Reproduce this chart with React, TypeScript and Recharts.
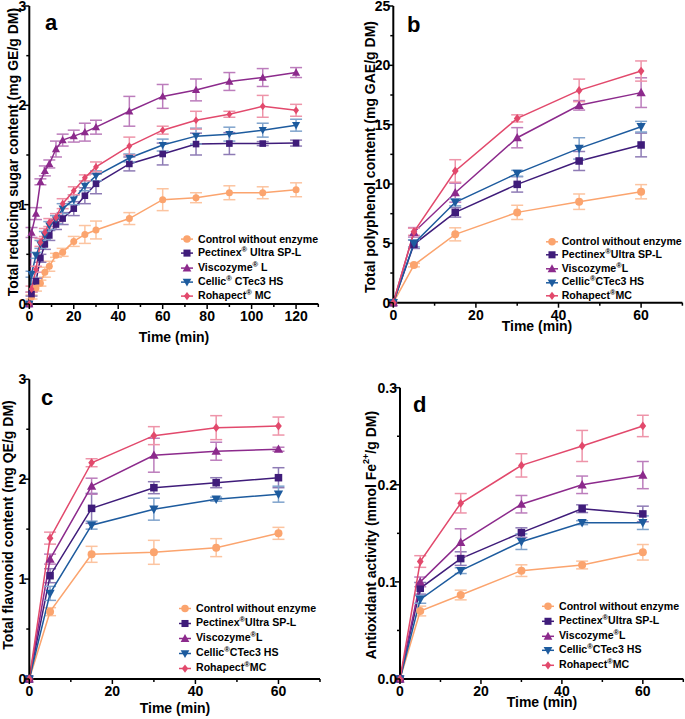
import React from 'react';
import { LineChart, Line, XAxis, YAxis, ErrorBar, Legend, Label } from 'recharts';

const FONT = '"Liberation Sans", Arial, Helvetica, sans-serif';

// ---------- series meta ----------
const seriesKeys = ['ctrl', 'pect', 'visc', 'cell', 'roha'];
const seriesColors = ['#FBA46E', '#3F1C7A', '#8C2A8C', '#1D5B9E', '#E2496C'];
const errorColors = ['#FCC4A0', '#8E7BB5', '#BC7DBC', '#7FA3CC', '#EE94A9'];
const seriesShapes = ['circle', 'square', 'up', 'down', 'diamond'];
const legendPrefix = ['Control without enzyme', 'Pectinex', 'Viscozyme', 'Cellic', 'Rohapect'];
const legendSuffixA = ['', ' Ultra SP-L', ' L', ' CTec3 HS', ' MC'];
const legendSuffix = ['', 'Ultra SP-L', 'L', 'CTec3 HS', 'MC'];

// ---------- panel a: reducing sugar ----------
const aTime = [0, 1, 3, 5, 7, 9, 12, 15, 20, 25, 30, 45, 60, 75, 90, 105, 120];
const aControl = [0, 0.07, 0.16, 0.21, 0.32, 0.38, 0.49, 0.52, 0.63, 0.7, 0.745, 0.86, 1.05, 1.07, 1.12, 1.12, 1.15];
const aControlErr = [0, 0.02, 0.03, 0.03, 0.05, 0.05, 0.02, 0.04, 0.05, 0.09, 0.09, 0.06, 0.11, 0.05, 0.07, 0.06, 0.07];
const aPectinex = [0, 0.1, 0.23, 0.46, 0.6, 0.69, 0.8, 0.86, 0.96, 1.09, 1.21, 1.41, 1.51, 1.61, 1.615, 1.615, 1.62];
const aPectinexErr = [0, 0.02, 0.03, 0.04, 0.05, 0.05, 0.05, 0.06, 0.07, 0.08, 0.1, 0.07, 0.11, 0.11, 0.11, 0.02, 0.03];
const aViscozyme = [0, 0.72, 0.91, 1.23, 1.34, 1.41, 1.56, 1.65, 1.69, 1.73, 1.78, 1.94, 2.09, 2.155, 2.24, 2.28, 2.33];
const aViscozymeErr = [0, 0.05, 0.06, 0.03, 0.05, 0.04, 0.08, 0.06, 0.06, 0.09, 0.07, 0.15, 0.12, 0.11, 0.09, 0.09, 0.05];
const aCellic = [0, 0.3, 0.49, 0.6, 0.69, 0.79, 0.85, 0.96, 1.05, 1.19, 1.29, 1.47, 1.6, 1.69, 1.71, 1.75, 1.8];
const aCellicErr = [0, 0.03, 0.03, 0.04, 0.04, 0.04, 0.04, 0.05, 0.05, 0.05, 0.05, 0.04, 0.06, 0.08, 0.07, 0.07, 0.06];
const aRohapect = [0, 0.15, 0.35, 0.62, 0.72, 0.82, 0.87, 1.01, 1.14, 1.27, 1.38, 1.59, 1.75, 1.85, 1.91, 1.99, 1.95];
const aRohapectErr = [0, 0.03, 0.03, 0.04, 0.04, 0.04, 0.04, 0.05, 0.04, 0.03, 0.05, 0.09, 0.04, 0.09, 0.03, 0.11, 0.06];

// ---------- panels b, c, d share time points ----------
const bcdTime = [0, 5, 15, 30, 45, 60];

const bControl = [0, 3.17, 5.76, 7.61, 8.51, 9.35];
const bControlErr = [0, 0.15, 0.55, 0.6, 0.65, 0.6];
const bPectinex = [0, 4.92, 7.61, 9.97, 11.94, 13.29];
const bPectinexErr = [0, 0.35, 0.4, 0.65, 0.8, 1.0];
const bViscozyme = [0, 5.93, 9.27, 13.9, 16.63, 17.7];
const bViscozymeErr = [0, 0.4, 0.8, 0.85, 0.4, 1.25];
const bCellic = [0, 5.0, 8.46, 10.9, 13.0, 14.83];
const bCellicErr = [0, 0.3, 0.3, 0.25, 0.9, 0.45];
const bRohapect = [0, 5.98, 11.1, 15.53, 17.89, 19.52];
const bRohapectErr = [0, 0.3, 0.95, 0.3, 0.95, 0.85];

const cControl = [0, 0.674, 1.248, 1.268, 1.315, 1.458];
const cControlErr = [0, 0.04, 0.08, 0.12, 0.09, 0.06];
const cPectinex = [0, 1.034, 1.708, 1.915, 1.965, 2.015];
const cPectinexErr = [0, 0.07, 0.15, 0.06, 0.05, 0.1];
const cViscozyme = [0, 1.2, 1.93, 2.24, 2.28, 2.3];
const cViscozymeErr = [0, 0.05, 0.08, 0.17, 0.09, 0.02];
const cCellic = [0, 0.857, 1.54, 1.7, 1.8, 1.85];
const cCellicErr = [0, 0.07, 0.04, 0.11, 0.02, 0.08];
const cRohapect = [0, 1.41, 2.165, 2.436, 2.516, 2.532];
const cRohapectErr = [0, 0.06, 0.04, 0.09, 0.12, 0.09];

const dControl = [0, 0.07, 0.0865, 0.1116, 0.1174, 0.1305];
const dControlErr = [0, 0.005, 0.005, 0.006, 0.004, 0.008];
const dPectinex = [0, 0.0934, 0.124, 0.1507, 0.1754, 0.17];
const dPectinexErr = [0, 0.006, 0.007, 0.005, 0.004, 0.008];
const dViscozyme = [0, 0.1, 0.1407, 0.18, 0.2, 0.21];
const dViscozymeErr = [0, 0.005, 0.014, 0.009, 0.009, 0.014];
const dCellic = [0, 0.082, 0.1116, 0.1414, 0.161, 0.161];
const dCellicErr = [0, 0.004, 0.003, 0.008, 0.002, 0.007];
const dRohapect = [0, 0.121, 0.181, 0.22, 0.24, 0.2606];
const dRohapectErr = [0, 0.006, 0.01, 0.012, 0.016, 0.011];

// ---------- ticks ----------
const xTicksA = [0, 10, 20, 30, 40, 50, 60, 70, 80, 90, 100, 110, 120, 130];
const xMajorA = [0, 20, 40, 60, 80, 100, 120];
const xTicksBCD = [0, 10, 20, 30, 40, 50, 60, 70];
const xMajorBCD = [0, 20, 40, 60];
const yTicksAC = [0, 0.5, 1, 1.5, 2, 2.5, 3];
const yMajorAC = [0, 1, 2, 3];
const yLabelsAC = ['0', '1', '2', '3'];
const yTicksB = [0, 2.5, 5, 7.5, 10, 12.5, 15, 17.5, 20, 22.5, 25];
const yMajorB = [0, 5, 10, 15, 20, 25];
const yLabelsB = ['0', '5', '10', '15', '20', '25'];
const yTicksD = [0, 0.05, 0.1, 0.15, 0.2, 0.25, 0.3];
const yMajorD = [0, 0.1, 0.2, 0.3];
const yLabelsD = ['0.0', '0.1', '0.2', '0.3'];

function buildRows(t: number[], vals: number[][], errs: number[][]) {
  return t.map((tv, i) => {
    const r: any = { t: tv };
    seriesKeys.forEach((k, j) => {
      r[k] = vals[j][i];
      r[k + '_e'] = errs[j][i];
    });
    return r;
  });
}

const dataA = buildRows(aTime, [aControl, aPectinex, aViscozyme, aCellic, aRohapect], [aControlErr, aPectinexErr, aViscozymeErr, aCellicErr, aRohapectErr]);
const dataB = buildRows(bcdTime, [bControl, bPectinex, bViscozyme, bCellic, bRohapect], [bControlErr, bPectinexErr, bViscozymeErr, bCellicErr, bRohapectErr]);
const dataC = buildRows(bcdTime, [cControl, cPectinex, cViscozyme, cCellic, cRohapect], [cControlErr, cPectinexErr, cViscozymeErr, cCellicErr, cRohapectErr]);
const dataD = buildRows(bcdTime, [dControl, dPectinex, dViscozyme, dCellic, dRohapect], [dControlErr, dPectinexErr, dViscozymeErr, dCellicErr, dRohapectErr]);

// ---------- marker ----------
function Marker({ cx, cy, shape, color, s }: any) {
  if (cx == null || cy == null) return <g />;
  switch (shape) {
    case 'circle':
      return <circle cx={cx} cy={cy} r={s * 0.5} fill={color} />;
    case 'square':
      return <rect x={cx - s * 0.47} y={cy - s * 0.47} width={s * 0.94} height={s * 0.94} fill={color} />;
    case 'up':
      return <polygon points={`${cx},${cy - s * 0.6} ${cx - s * 0.58},${cy + s * 0.45} ${cx + s * 0.58},${cy + s * 0.45}`} fill={color} />;
    case 'down':
      return <polygon points={`${cx},${cy + s * 0.6} ${cx - s * 0.58},${cy - s * 0.45} ${cx + s * 0.58},${cy - s * 0.45}`} fill={color} />;
    default:
      return <polygon points={`${cx},${cy - s * 0.55} ${cx + s * 0.42},${cy} ${cx},${cy + s * 0.55} ${cx - s * 0.42},${cy}`} fill={color} />;
  }
}

const near = (a: number, list: number[]) => list.findIndex((v) => Math.abs(v - a) < 1e-9);

function XTick(props: any) {
  const { x, y, payload, major } = props;
  const idx = near(payload.value, major);
  const isMajor = idx >= 0;
  return (
    <g>
      <line x1={x} x2={x} y1={y} y2={y + (isMajor ? 5 : 3)} stroke="#000" strokeWidth={1.5} />
      {isMajor && (
        <text x={x} y={y + 17} textAnchor="middle" fontSize={14} fontWeight="bold" fontFamily={FONT} fill="#000">
          {String(payload.value)}
        </text>
      )}
    </g>
  );
}

function YTick(props: any) {
  const { x, y, payload, major, labels } = props;
  const idx = near(payload.value, major);
  const isMajor = idx >= 0;
  return (
    <g>
      <line x1={x - (isMajor ? 5 : 3)} x2={x} y1={y} y2={y} stroke="#000" strokeWidth={1.5} />
      {isMajor && (
        <text x={x - 3} y={y + 5} textAnchor="end" fontSize={14} fontWeight="bold" fontFamily={FONT} fill="#000">
          {labels[idx]}
        </text>
      )}
    </g>
  );
}

function LegendBox({ suffixes, symX, textX, rowH }: any) {
  return (
    <div style={{ fontFamily: FONT, fontWeight: 'bold', fontSize: 10.6, color: '#000' }}>
      {legendPrefix.map((p, i) => (
        <div key={p} style={{ display: 'flex', alignItems: 'center', height: rowH, whiteSpace: 'nowrap' }}>
          <svg width={12} height={rowH} style={{ display: 'block', flex: 'none' }}>
            <line x1={0} x2={12} y1={rowH / 2} y2={rowH / 2} stroke={seriesColors[i]} strokeWidth={1.5} />
            <Marker cx={6} cy={rowH / 2} shape={seriesShapes[i]} color={seriesColors[i]} s={7.5} />
          </svg>
          <span style={{ marginLeft: textX - symX - 6, lineHeight: `${rowH}px` }}>
            {p}
            {i > 0 && <span style={{ fontSize: 7.5, position: 'relative', top: -4 }}>®</span>}
            {suffixes[i]}
          </span>
        </div>
      ))}
    </div>
  );
}

function Panel(p: any) {
  const { left, top, W, H, plot, data } = p;
  const margin = { top: plot.y0 - top, right: left + W - plot.x1, left: 0, bottom: 0 };
  const yW = plot.x0 - left;
  const xH = top + H - plot.y1;
  const rx = (v: number) => v - left;
  const ry = (v: number) => v - top;
  const lg = p.legend;
  return (
    <div style={{ position: 'absolute', left, top }}>
      <LineChart width={W} height={H} data={data} margin={margin}>
        <XAxis
          dataKey="t"
          type="number"
          domain={p.xDomain}
          ticks={p.xTicks}
          interval={0}
          height={xH}
          tickSize={0}
          tickMargin={0}
          tickLine={false}
          axisLine={{ stroke: '#000', strokeWidth: 2 }}
          tick={<XTick major={p.xMajor} />}
        >
          <Label
            content={() => (
              <text x={rx(p.xLabel.x)} y={ry(p.xLabel.y) + 5} textAnchor="middle" fontSize={14} fontWeight="bold" fontFamily={FONT} fill="#000">
                Time (min)
              </text>
            )}
          />
        </XAxis>
        <YAxis
          type="number"
          domain={p.yDomain}
          ticks={p.yTicks}
          interval={0}
          width={yW}
          tickSize={0}
          tickMargin={0}
          tickLine={false}
          axisLine={{ stroke: '#000', strokeWidth: 2 }}
          tick={<YTick major={p.yMajor} labels={p.yLabels} />}
        >
          <Label
            content={() => (
              <g>
                <text
                  x={rx(p.yLabel.x)}
                  y={ry(p.yLabel.y)}
                  transform={`rotate(-90, ${rx(p.yLabel.x)}, ${ry(p.yLabel.y)})`}
                  textAnchor="middle"
                  dominantBaseline="central"
                  fontSize={14}
                  fontWeight="bold"
                  fontFamily={FONT}
                  fill="#000"
                >
                  {p.yLabel.text}
                </text>
                <text x={rx(p.title.x)} y={ry(p.title.y)} fontSize={22} fontWeight="bold" fontFamily={FONT} fill="#000">
                  {p.title.text}
                </text>
              </g>
            )}
          />
        </YAxis>
        {seriesKeys.map((k, i) => (
          <Line
            key={k}
            dataKey={k}
            type="linear"
            stroke={seriesColors[i]}
            strokeWidth={1.5}
            isAnimationActive={false}
            activeDot={false}
            dot={(dp: any) => <Marker key={`${k}-${dp.index}`} cx={dp.cx} cy={dp.cy} shape={seriesShapes[i]} color={seriesColors[i]} s={p.markerSize} />}
          >
            <ErrorBar dataKey={k + '_e'} width={6} strokeWidth={1.5} stroke={errorColors[i]} direction="y" />
          </Line>
        ))}
        <Legend
          layout="horizontal"
          verticalAlign="middle"
          align="center"
          wrapperStyle={{ left: rx(lg.symX - 6), top: ry(lg.rowY - lg.rowH / 2), width: 'auto', height: 'auto' }}
          content={() => <LegendBox suffixes={lg.suffixes} symX={lg.symX} textX={lg.textX} rowH={lg.rowH} />}
        />
      </LineChart>
    </div>
  );
}

export default function App() {
  return (
    <div style={{ position: 'absolute', left: 0, top: 0, width: 685, height: 719, background: '#fff', fontFamily: FONT }}>
      <Panel
        left={0}
        top={0}
        W={345}
        H={345}
        plot={{ x0: 29.3, x1: 318.3, y0: 6, y1: 304 }}
        data={dataA}
        xDomain={[0, 130]}
        xTicks={xTicksA}
        xMajor={xMajorA}
        yDomain={[0, 3]}
        yTicks={yTicksAC}
        yMajor={yMajorAC}
        yLabels={yLabelsAC}
        markerSize={7}
        xLabel={{ x: 174, y: 337 }}
        yLabel={{ x: 12.5, y: 152, text: 'Total reducing sugar content (mg GE/g DM)' }}
        title={{ x: 45, y: 30, text: 'a' }}
        legend={{ suffixes: legendSuffixA, symX: 187, textX: 198, rowY: 239.3, rowH: 14.2 }}
      />
      <Panel
        left={340}
        top={0}
        W={345}
        H={345}
        plot={{ x0: 393.3, x1: 682.4, y0: 6, y1: 302.7 }}
        data={dataB}
        xDomain={[0, 70]}
        xTicks={xTicksBCD}
        xMajor={xMajorBCD}
        yDomain={[0, 25]}
        yTicks={yTicksB}
        yMajor={yMajorB}
        yLabels={yLabelsB}
        markerSize={8}
        xLabel={{ x: 537, y: 326 }}
        yLabel={{ x: 370, y: 157, text: 'Total polyphenol content (mg GAE/g DM)' }}
        title={{ x: 407, y: 32, text: 'b' }}
        legend={{ suffixes: legendSuffix, symX: 551.7, textX: 561.7, rowY: 241.7, rowH: 13.6 }}
      />
      <Panel
        left={0}
        top={350}
        W={345}
        H={369}
        plot={{ x0: 29.3, x1: 320, y0: 379.3, y1: 679 }}
        data={dataC}
        xDomain={[0, 70]}
        xTicks={xTicksBCD}
        xMajor={xMajorBCD}
        yDomain={[0, 3]}
        yTicks={yTicksAC}
        yMajor={yMajorAC}
        yLabels={yLabelsAC}
        markerSize={8}
        xLabel={{ x: 175, y: 708 }}
        yLabel={{ x: 8, y: 525, text: 'Total flavonoid content (mg QE/g DM)' }}
        title={{ x: 41, y: 405, text: 'c' }}
        legend={{ suffixes: legendSuffix, symX: 185, textX: 196, rowY: 608.3, rowH: 15 }}
      />
      <Panel
        left={340}
        top={350}
        W={345}
        H={369}
        plot={{ x0: 400, x1: 683.3, y0: 387.7, y1: 679 }}
        data={dataD}
        xDomain={[0, 70]}
        xTicks={xTicksBCD}
        xMajor={xMajorBCD}
        yDomain={[0, 0.3]}
        yTicks={yTicksD}
        yMajor={yMajorD}
        yLabels={yLabelsD}
        markerSize={8}
        xLabel={{ x: 542, y: 702 }}
        yLabel={{
          x: 371,
          y: 535,
          text: (
            <>
              Antioxidant activity (mmol Fe
              <tspan fontSize={9} dy={-5}>2+</tspan>
              <tspan dy={5}>/g DM)</tspan>
            </>
          ),
        }}
        title={{ x: 413, y: 412, text: 'd' }}
        legend={{ suffixes: legendSuffix, symX: 548.3, textX: 559, rowY: 606.7, rowH: 14.6 }}
      />
    </div>
  );
}
